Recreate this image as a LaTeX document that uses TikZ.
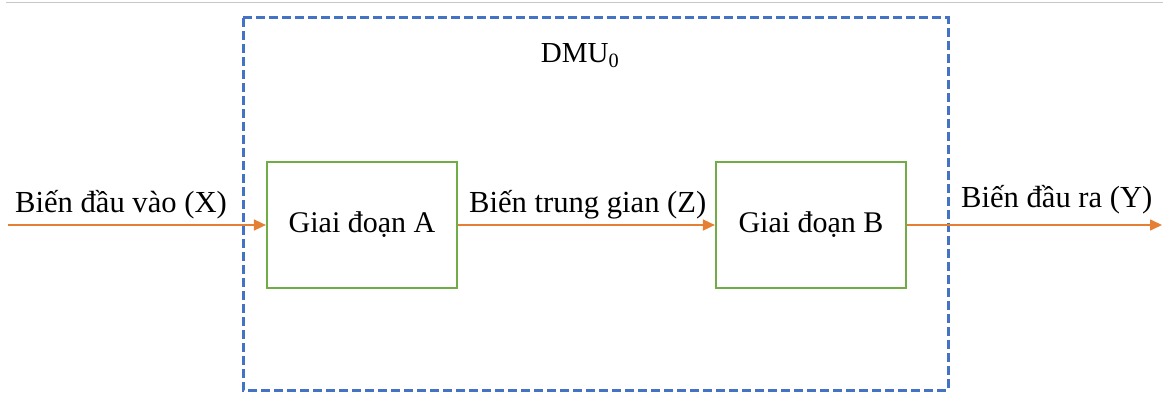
\documentclass[tikz,border=0pt]{standalone}
\usepackage{fontspec}
\setmainfont{Liberation Serif}
\usetikzlibrary{arrows.meta}
\definecolor{stageGreen}{HTML}{70AD47}
\definecolor{flowOrange}{HTML}{E47F34}
\definecolor{dmuBlue}{HTML}{4472C4}
\tikzset{
  stagebox/.style={draw=stageGreen, line width=2.2pt, fill=white,
    minimum width=190pt, minimum height=126pt, inner sep=0pt,
    font=\fontsize{30}{34}\selectfont},
  flow/.style={draw=flowOrange, line width=1.6pt,
    -{Triangle[length=12pt,width=11pt]}},
  flowlabel/.style={anchor=base west, inner sep=0pt,
    font=\fontsize{30.6}{34}\selectfont},
  dmubox/.style={draw=dmuBlue, line width=3pt, dash pattern=on 9pt off 4pt}
}
\begin{document}
\begin{tikzpicture}[x=1pt, y=-1pt]
  \useasboundingbox (0,0) rectangle (1163,398);
  % thin rule along the top
  \draw[black!22, line width=1pt] (6,2.5) -- (1163,2.5);

  % decision making unit frame
  \draw[dmubox] (243,18) rectangle (948,390);
  \node[anchor=base, inner sep=0pt, font=\fontsize{29}{32}\selectfont]
    (dmu) at (580,63) {DMU\textsubscript{0}};

  % two stages
  \node[stagebox] (A) at (362,225) {Giai đoạn A};
  \node[stagebox] (B) at (811,225) {Giai đoạn B};

  % flows
  \coordinate (in)  at (8,225);
  \coordinate (out) at (1162,225);
  \draw[flow] (in) -- (A.west);
  \draw[flow] (A.east) -- (B.west);
  \draw[flow] (B.east) -- (out);

  % flow labels
  \node[flowlabel] (lx) at (15,213)  {Biến đầu vào (X)};
  \node[flowlabel] (lz) at (469,213) {Biến trung gian (Z)};
  \node[flowlabel] (ly) at (961,208) {Biến đầu ra (Y)};
\end{tikzpicture}
\end{document}
